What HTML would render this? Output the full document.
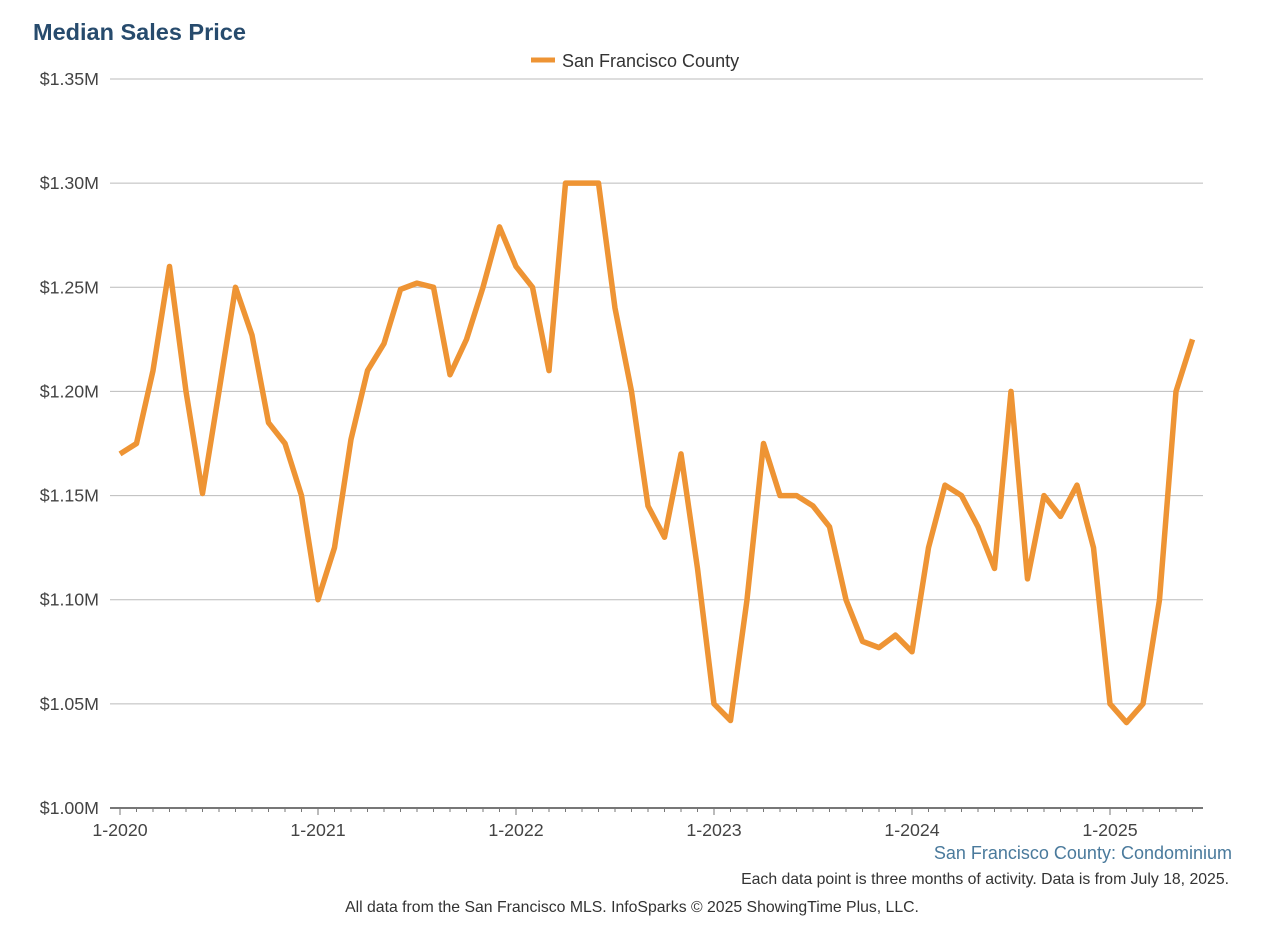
<!DOCTYPE html>
<html><head><meta charset="utf-8"><style>
body{margin:0;background:#fff;width:1274px;height:946px;overflow:hidden;font-family:"Liberation Sans",sans-serif}
</style></head><body>
<svg width="1274" height="946" id="chart" style="font-family:'Liberation Sans',sans-serif">
<text x="33" y="40" font-size="23.5" font-weight="bold" fill="#274b6d">Median Sales Price</text>
<g>
<line x1="531" y1="60" x2="555" y2="60" stroke="#ee9434" stroke-width="5"/>
<text x="562" y="67" font-size="18" fill="#333">San Francisco County</text>
</g>
<g id="grid"></g><g id="xaxis"></g>
<polyline id="line" fill="none" stroke="#ee9434" stroke-width="5.5" stroke-linejoin="round"/>
<text x="1232" y="859" font-size="18" fill="#4a7a9c" text-anchor="end">San Francisco County: Condominium</text>
<text x="1229" y="884" font-size="15.8" fill="#333" text-anchor="end">Each data point is three months of activity. Data is from July 18, 2025.</text>
<text x="632" y="912" font-size="15.8" fill="#333" text-anchor="middle">All data from the San Francisco MLS. InfoSparks © 2025 ShowingTime Plus, LLC.</text>
</svg>
<script>
const values=[1.170,1.175,1.210,1.260,1.200,1.151,1.200,1.250,1.227,1.185,1.175,1.150,
1.100,1.125,1.177,1.210,1.223,1.249,1.252,1.250,1.208,1.225,1.250,1.279,
1.260,1.250,1.210,1.300,1.300,1.300,1.240,1.200,1.145,1.130,1.170,1.115,
1.050,1.042,1.100,1.175,1.150,1.150,1.145,1.135,1.100,1.080,1.077,1.083,
1.075,1.125,1.155,1.150,1.135,1.115,1.200,1.110,1.150,1.140,1.155,1.125,
1.050,1.041,1.050,1.100,1.200,1.225];
const yTicks=[1.00,1.05,1.10,1.15,1.20,1.25,1.30,1.35];
const yTickLabels=["$1.00M","$1.05M","$1.10M","$1.15M","$1.20M","$1.25M","$1.30M","$1.35M"];
const xTickLabels=["1-2020","1-2021","1-2022","1-2023","1-2024","1-2025"];
const xTickMonths=[0,12,24,36,48,60];
const NS="http://www.w3.org/2000/svg";
const y=v=>808-(v-1.0)/0.35*729;
const x=i=>120+16.5*i;
const grid=document.getElementById('grid'),xa=document.getElementById('xaxis');
function mk(tag,attrs,parent,txt){const e=document.createElementNS(NS,tag);for(const k in attrs)e.setAttribute(k,attrs[k]);if(txt!==undefined)e.textContent=txt;parent.appendChild(e);return e;}
yTicks.forEach((t,i)=>{
 const l=mk('line',{x1:110,x2:1203,y1:y(t),y2:y(t),stroke:t===1.0?'#777':'#bbb','stroke-width':t===1.0?2:1},grid);
 
 
 const tx=mk('text',{x:99,y:y(t)+6,'font-size':17.8,fill:'#444','text-anchor':'end'},grid,yTickLabels[i]);
 
 
});
values.forEach((v,i)=>{
 const tk=mk('line',{x1:x(i),x2:x(i),y1:808,y2:i%12===0?815:812,stroke:'#777','stroke-width':1},xa);
 
 
});
xTickLabels.forEach((s,i)=>{
 const tx=mk('text',{x:x(xTickMonths[i]),y:836,'font-size':17.8,fill:'#444','text-anchor':'middle'},xa,s);
 
 
});
document.getElementById('line').setAttribute('points',values.map((v,i)=>x(i)+','+y(v)).join(' '));
</script>
</body></html>
